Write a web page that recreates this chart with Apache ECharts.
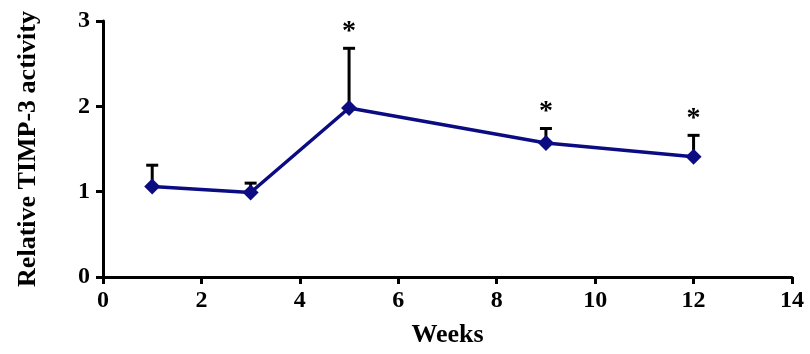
<!DOCTYPE html>
<html><head><meta charset="utf-8">
<script src="https://cdn.jsdelivr.net/npm/echarts@6/dist/echarts.min.js"></script>
<style>html,body{margin:0;padding:0;background:#fff}#c{width:810px;height:354px}</style>
</head><body><div id="c"></div>
<script>
const weeks = [1, 3, 5, 9, 12];
const meanValues = [1.06, 0.99, 1.98, 1.57, 1.41];
const upperError = [1.31, 1.10, 2.68, 1.74, 1.66];
const significant = [false, false, true, true, true];
const xTicks = [0, 2, 4, 6, 8, 10, 12, 14];
const yTicks = [0, 1, 2, 3];

const font = 'Liberation Serif';
const chart = echarts.init(document.getElementById('c'));
const lineData = weeks.map((w, i) => [w, meanValues[i]]);
const errData = weeks.map((w, i) => [w, meanValues[i], upperError[i], significant[i] ? 1 : 0]);

chart.setOption({
  animation: false,
  grid: {left: 103, right: 18, top: 21, bottom: 77},
  xAxis: {
    type: 'value', min: 0, max: 14, interval: 2,
    name: 'Weeks', nameLocation: 'middle', nameGap: 45,
    nameTextStyle: {fontFamily: font, fontWeight: 'bold', fontSize: 26, color: '#000'},
    axisLine: {show: true, onZero: false, lineStyle: {color: '#000', width: 3}},
    axisTick: {show: true, length: 7, lineStyle: {color: '#000', width: 3}},
    axisLabel: {fontFamily: font, fontWeight: 'bold', fontSize: 24, color: '#000', margin: 12},
    splitLine: {show: false}
  },
  yAxis: {
    type: 'value', min: 0, max: 3, interval: 1,
    name: 'Relative TIMP-3 activity', nameLocation: 'middle', nameGap: 62, nameRotate: 90,
    nameTextStyle: {fontFamily: font, fontWeight: 'bold', fontSize: 26, color: '#000'},
    axisLine: {show: true, lineStyle: {color: '#000', width: 3}},
    axisTick: {show: true, length: 7, lineStyle: {color: '#000', width: 3}},
    axisLabel: {fontFamily: font, fontWeight: 'bold', fontSize: 24, color: '#000', margin: 13},
    splitLine: {show: false}
  },
  series: [
    {
      type: 'custom', z: 1,
      data: errData,
      renderItem: function (params, api) {
        const x = api.value(0);
        const p0 = api.coord([x, api.value(1)]);
        const p1 = api.coord([x, api.value(2)]);
        const children = [
          {type: 'line', shape: {x1: p0[0], y1: p0[1], x2: p1[0], y2: p1[1]}, style: {stroke: '#000', lineWidth: 3}},
          {type: 'line', shape: {x1: p1[0] - 6, y1: p1[1], x2: p1[0] + 6, y2: p1[1]}, style: {stroke: '#000', lineWidth: 3}}
        ];
        if (api.value(3)) {
          children.push({type: 'text', style: {text: '*', x: p1[0], y: p1[1] - 3, textAlign: 'center', textVerticalAlign: 'bottom',
            font: 'bold 28px "Liberation Serif"', fill: '#000'}});
        }
        return {type: 'group', children: children};
      }
    },
    {
      type: 'line', z: 3,
      data: lineData,
      symbol: 'diamond', symbolSize: 16,
      lineStyle: {color: '#0c0c82', width: 3.5},
      itemStyle: {color: '#0c0c82'}
    }
  ]
});
</script>
</body></html>
